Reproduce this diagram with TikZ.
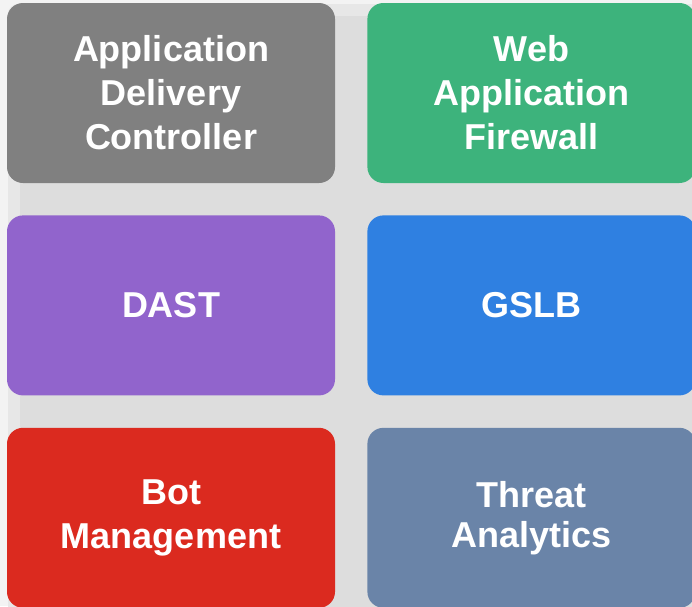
\documentclass[tikz,border=0pt]{standalone}
\usepackage{fontspec}
\setsansfont{Liberation Sans}
\usepackage{tikz}
\usetikzlibrary{positioning}
\definecolor{adcgray}{HTML}{808080}
\definecolor{wafgreen}{HTML}{3DB37C}
\definecolor{dastpurple}{HTML}{9164CC}
\definecolor{gslbblue}{HTML}{2F80E1}
\definecolor{botred}{HTML}{DB2A1F}
\definecolor{threatslate}{HTML}{6A84A8}
\definecolor{pagegray}{HTML}{F3F3F3}
\definecolor{midgray}{HTML}{E7E7E7}
\definecolor{gapgray}{HTML}{DDDDDD}
\tikzstyle{tile} = [rectangle, rounded corners=16pt, minimum width=328pt, minimum height=180pt, inner sep=0pt, align=center, text=white, font=\sffamily\bfseries\fontsize{36}{44}\selectfont]

\begin{document}
\begin{tikzpicture}[node distance=32pt]
\useasboundingbox (0,0) rectangle (692pt,-606pt);
\fill[pagegray] (0,0) rectangle (692pt,-606pt);
\fill[midgray, rounded corners=10pt] (8pt,-4pt) rectangle (700pt,-620pt);
\fill[gapgray, rounded corners=10pt] (20pt,-16pt) rectangle (700pt,-620pt);
\node[tile, fill=adcgray] (adc) at (171pt,-93pt) {Application\\Delivery\\Controller};
\node[tile, fill=wafgreen, right=of adc] (waf) {Web\\Application\\Firewall};
\node[tile, fill=dastpurple, below=of adc] (dast) {DAST};
\node[tile, fill=gslbblue, right=of dast] (gslb) {GSLB};
\node[tile, fill=botred, below=of dast] (bot) {Bot\\Management};
\node[tile, fill=threatslate, right=of bot, font=\sffamily\bfseries\fontsize{36}{40}\selectfont] (threat) {Threat\\Analytics};
\end{tikzpicture}
\end{document}
